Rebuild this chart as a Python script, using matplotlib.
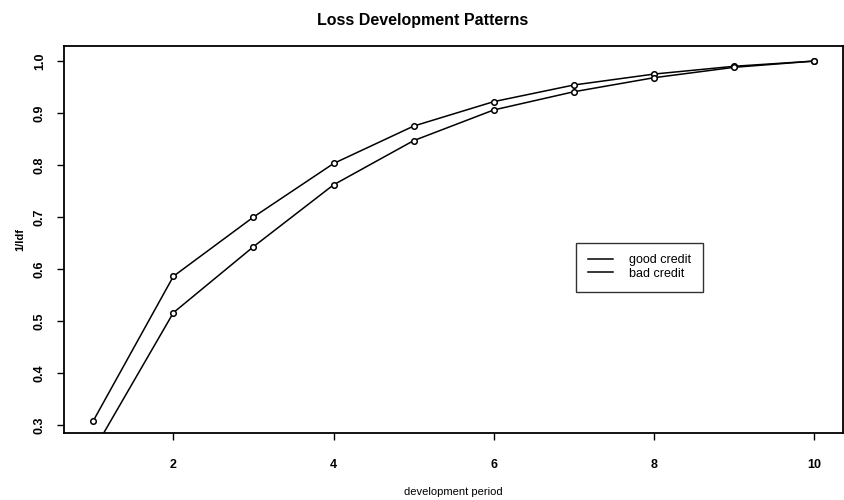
import matplotlib.pyplot as plt
import numpy as np

# development periods and 1/ldf values
periods = [1, 2, 3, 4, 5, 6, 7, 8, 9, 10]
good_credit = [0.308, 0.586, 0.700, 0.803, 0.875, 0.922, 0.954, 0.975, 0.990, 1.000]
bad_credit = [0.250, 0.516, 0.643, 0.762, 0.847, 0.906, 0.941, 0.968, 0.988, 1.000]

plt.rcParams['font.family'] = ['Liberation Sans', 'DejaVu Sans']

fig = plt.figure(figsize=(8.45, 5), dpi=100)
ax = fig.add_axes([0.0757, 0.134, 0.9219, 0.774])

ax.plot(periods, good_credit, '-o', color='black', linewidth=1.1,
        markersize=4, markerfacecolor='white', markeredgewidth=1.1, label='good credit')
ax.plot(periods, bad_credit, '-o', color='black', linewidth=1.1,
        markersize=4, markerfacecolor='white', markeredgewidth=1.1, label='bad credit')

ax.set_xlim(0.634, 10.36)
ax.set_ylim(0.2846, 1.029)
ax.set_xticks([2, 4, 6, 8, 10])
yt = [0.3, 0.4, 0.5, 0.6, 0.7, 0.8, 0.9, 1.0]
ax.set_yticks(yt)
ax.set_yticklabels([f'{v:.1f}' for v in yt], rotation=90, va='center')
ax.tick_params(axis='x', labelsize=9, length=5, width=1.0, pad=14)
ax.tick_params(axis='y', labelsize=9, length=5, width=1.0, pad=8)
for lab in ax.get_xticklabels() + ax.get_yticklabels():
    lab.set_fontweight('bold')
for s in ax.spines.values():
    s.set_linewidth(1.3)

ax.set_xlabel('development period', fontsize=8, labelpad=11)
ax.set_ylabel('1/ldf', fontsize=8, fontweight='bold', labelpad=6)
fig.suptitle('Loss Development Patterns', fontsize=11.5, fontweight='bold', y=0.975)

leg = ax.legend(loc='upper left', bbox_to_anchor=(0.657, 0.492), fontsize=9,
                frameon=True, fancybox=False, edgecolor='black', handlelength=2.0,
                borderpad=0.95, labelspacing=0.1, handletextpad=1.3, borderaxespad=0)
for h in leg.get_lines():
    h.set_marker('')
leg.get_frame().set_linewidth(1.0)

fig.savefig('out.png', dpi=100)
